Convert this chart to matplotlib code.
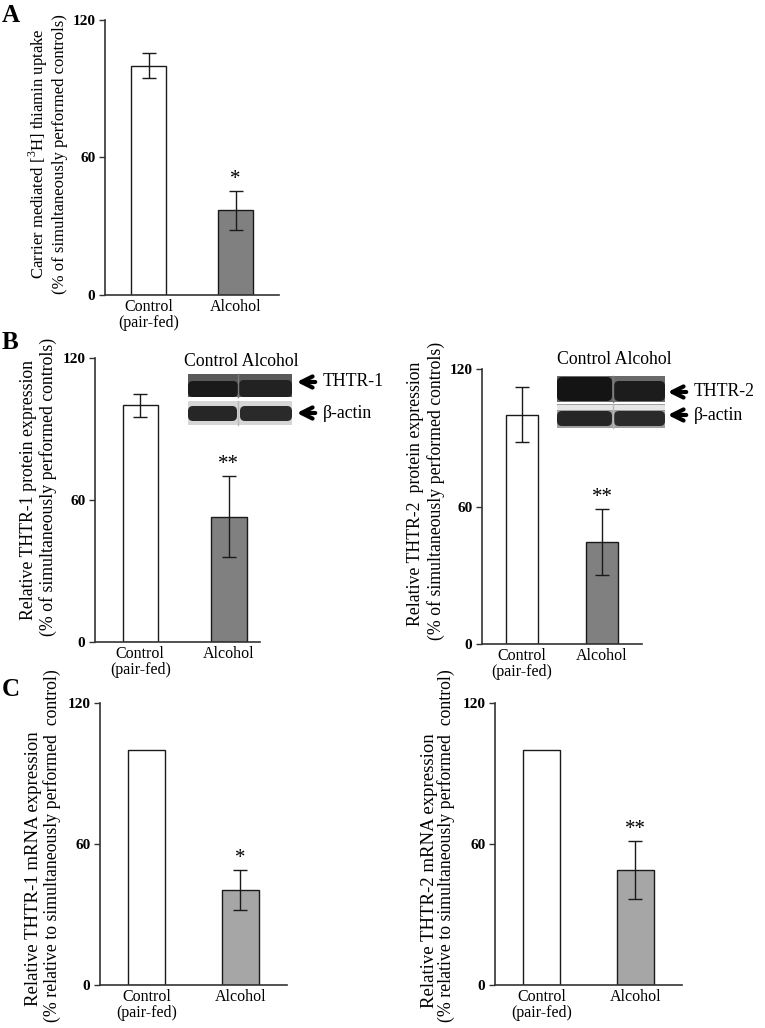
import matplotlib
matplotlib.use('Agg')

import matplotlib.pyplot as plt
from matplotlib.patches import Rectangle, FancyBboxPatch

plt.rcParams['font.family'] = ['Liberation Serif', 'DejaVu Serif']
plt.rcParams['mathtext.fontset'] = 'custom'
plt.rcParams['mathtext.rm'] = 'Liberation Serif'

W, H = 765, 1028

groups = ['Control\n(pair-fed)', 'Alcohol']

uptake_mean = [100, 37]
uptake_err = [5.5, 8.5]

thtr1_prot_mean = [100, 53]
thtr1_prot_err = [5, 17]

thtr2_prot_mean = [100, 44.5]
thtr2_prot_err = [12, 14.5]

thtr1_mrna_mean = [100, 40.5]
thtr1_mrna_err = [0, 8.4]

thtr2_mrna_mean = [100, 49]
thtr2_mrna_err = [0, 12.3]

fig = plt.figure(figsize=(W / 100, H / 100), dpi=100)


def px_axes(l, t, r, b):
    return fig.add_axes([l / W, 1 - b / H, (r - l) / W, (b - t) / H])


def ylab(x, y, text, size):
    fig.text(x / W, 1 - y / H, text, rotation=90, ha='center', va='center', fontsize=size)


def bar_panel(ax, means, errs, alc_color, sig, xlim=(-0.5, 1.5)):
    x = [0, 1]
    ax.bar(x, means, width=0.4, color=['white', alc_color],
           edgecolor='#1a1a1a', linewidth=1.0, zorder=2)
    for xi, m, e in zip(x, means, errs):
        if e > 0:
            ax.errorbar(xi, m, yerr=e, color='#1a1a1a', capsize=5,
                        elinewidth=1.0, capthick=1.0, zorder=3)
    top = means[1] + errs[1]
    ax.annotate(sig, (1, top), xytext=(0, 5), textcoords='offset points',
                ha='center', va='baseline', fontsize=15)
    ax.set_xlim(*xlim)
    ax.set_ylim(0, 120)
    ax.set_yticks([0, 60, 120])
    ax.set_xticks(x)
    ax.set_xticklabels(groups, fontsize=11.5, linespacing=1.0)
    ax.tick_params(axis='x', length=0, pad=3)
    ax.tick_params(axis='y', length=4, width=1, pad=3, labelsize=11, color='#333')
    for lab in ax.get_yticklabels():
        lab.set_fontweight('bold')
    for s in ['top', 'right']:
        ax.spines[s].set_visible(False)
    for s in ['left', 'bottom']:
        ax.spines[s].set_color('#333')
        ax.spines[s].set_linewidth(1.2)


# A: thiamin uptake
axA = px_axes(105, 20, 279, 295)
bar_panel(axA, uptake_mean, uptake_err, '#808080', '*')
ylab(38, 154, 'Carrier mediated [$^{3}$H] thiamin uptake', 12)
ylab(60, 154, '(% of simultaneously performed controls)', 12)

# B: protein expression
axB1 = px_axes(95, 358, 260, 642)
bar_panel(axB1, thtr1_prot_mean, thtr1_prot_err, '#808080', '**', xlim=(-0.51, 1.35))
ylab(29, 490, 'Relative THTR-1 protein expression', 12.8)
ylab(48, 487, '(% of simultaneously performed controls)', 12.8)

axB2 = px_axes(482, 369, 642, 644)
bar_panel(axB2, thtr2_prot_mean, thtr2_prot_err, '#808080', '**')
ylab(416, 494, 'Relative THTR-2  protein expression', 12.8)
ylab(436, 491, '(% of simultaneously performed controls)', 12.8)

# C: mRNA expression
axC1 = px_axes(100, 703, 287, 985)
bar_panel(axC1, thtr1_mrna_mean, thtr1_mrna_err, '#a6a6a6', '*')
ylab(34, 869, 'Relative THTR-1 mRNA expression', 13.5)
ylab(52, 846, '(% relative to simultaneously performed  control)', 12.8)

axC2 = px_axes(495, 703, 682, 985)
bar_panel(axC2, thtr2_mrna_mean, thtr2_mrna_err, '#a6a6a6', '**')
ylab(429, 871, 'Relative THTR-2 mRNA expression', 13.5)
ylab(446, 846, '(% relative to simultaneously performed  control)', 12.8)

# panel letters
fig.text(2 / W, 1 - 15 / H, 'A', fontsize=18, fontweight='bold', va='center')
fig.text(2 / W, 1 - 343 / H, 'B', fontsize=18, fontweight='bold', va='center')
fig.text(2 / W, 1 - 690 / H, 'C', fontsize=18, fontweight='bold', va='center')

# western blot insets (drawn in pixel space)
ov = fig.add_axes([0, 0, 1, 1], zorder=5)
ov.set_xlim(0, W)
ov.set_ylim(H, 0)
ov.axis('off')


def band(x0, y0, x1, y1, color):
    ov.add_patch(FancyBboxPatch((x0, y0), x1 - x0, y1 - y0,
                                boxstyle='round,pad=0,rounding_size=5',
                                fc=color, ec='none'))


def blot(x0, x1, xsep, top, bot, top_bg, bot_bg, top_bands, bot_bands, light=None):
    ov.add_patch(Rectangle((x0, top[0]), x1 - x0, top[1] - top[0], fc=top_bg, ec='none'))
    ov.add_patch(Rectangle((x0, bot[0]), x1 - x0, bot[1] - bot[0], fc=bot_bg, ec='none'))
    if light:
        ov.add_patch(Rectangle((x0, light[0]), x1 - x0, light[1] - light[0],
                               fc='#e6e6e6', ec='none'))
    for (bx0, by0, bx1, by1, c) in top_bands + bot_bands:
        band(bx0, by0, bx1, by1, c)
    ov.plot([xsep, xsep], [top[0], top[1]], color='#7a7a7a', lw=1)
    ov.plot([xsep, xsep], [bot[0], bot[1]], color='#b8b8b8', lw=1)


blot(188, 292, 238.5, (374, 397), (401, 425), '#5a5a5a', '#d6d6d6',
     [(188, 381, 238, 397, '#1a1a1a'), (239, 380, 292, 397, '#222222')],
     [(188, 406, 237, 421, '#262626'), (240, 406, 292, 421, '#2a2a2a')])
blot(557, 665, 613, (376, 402), (404, 428), '#6a6a6a', '#a0a0a0',
     [(557, 377, 612, 401, '#141414'), (614, 381, 665, 401, '#1c1c1c')],
     [(557, 411, 612, 426, '#262626'), (614, 411, 665, 426, '#2a2a2a')],
     light=(405, 410))

ov.text(241, 361, 'Control Alcohol', ha='center', va='center', fontsize=12.8)
ov.text(614, 360, 'Control Alcohol', ha='center', va='center', fontsize=12.8)

arrow = dict(arrowstyle='->', lw=3, color='black', mutation_scale=20)
for (xa, xb, y, label) in [(294, 318, 382, 'THTR-1'), (294, 318, 413, '\u03b2-actin'),
                           (665, 689, 392, 'THTR-2'), (665, 689, 415, '\u03b2-actin')]:
    ov.annotate('', xy=(xa, y), xytext=(xb, y), arrowprops=arrow)
    ov.text(xb + 5, y, label, ha='left', va='center', fontsize=12.8)

fig.savefig('out.png', dpi=100)
